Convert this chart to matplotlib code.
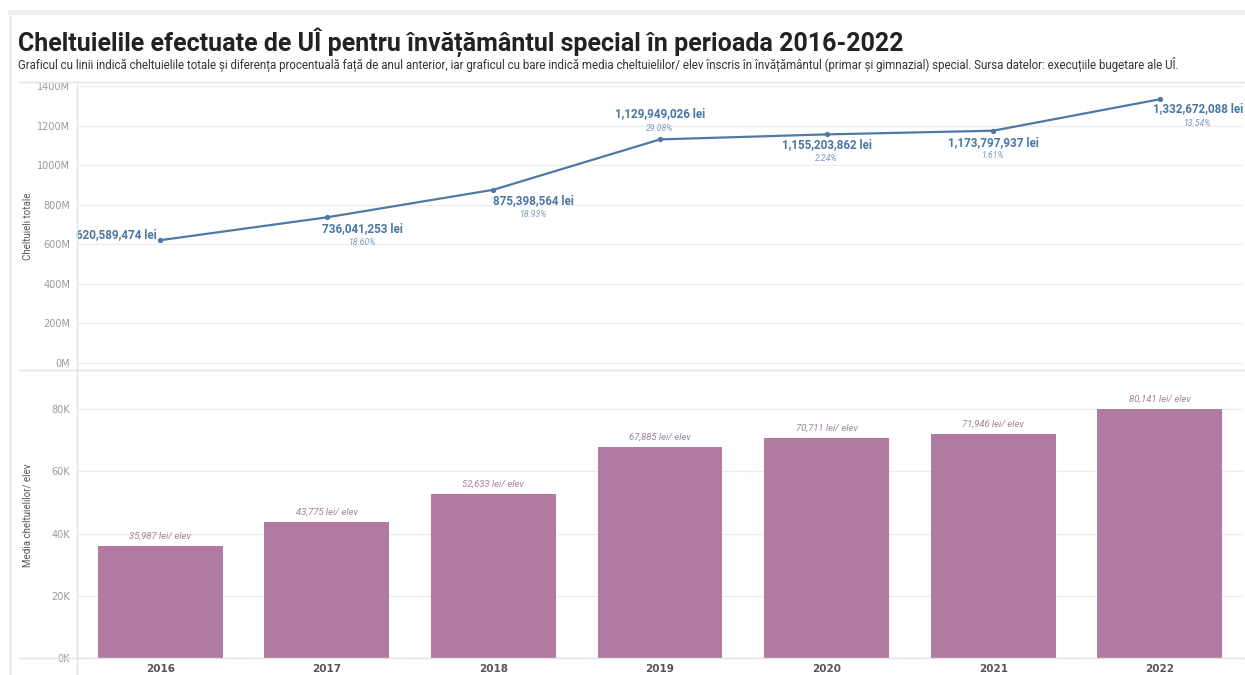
import matplotlib
matplotlib.use("Agg")
import matplotlib.pyplot as plt
from matplotlib.lines import Line2D
from matplotlib.ticker import FuncFormatter

# ---- data ----
years = ["2016", "2017", "2018", "2019", "2020", "2021", "2022"]
total_spend = [620589474, 736041253, 875398564, 1129949026, 1155203862, 1173797937, 1332672088]
pct_change = ["", "18.60%", "18.93%", "29.08%", "2.24%", "1.61%", "13.54%"]
avg_per_student = [35987, 43775, 52633, 67885, 70711, 71946, 80141]
top_ticks = [0, 200, 400, 600, 800, 1000, 1200, 1400]
bot_ticks = [0, 20, 40, 60, 80]

title = "Cheltuielile efectuate de UÎ pentru învățământul special în perioada 2016-2022"
subtitle = ("Graficul cu linii indică cheltuielile totale și diferența procentuală față de anul anterior, "
            "iar graficul cu bare indică media cheltuielilor/ elev înscris în învățământul (primar și gimnazial) "
            "special. Sursa datelor: execuțiile bugetare ale UÎ.")

FONT = ["Roboto", "DejaVu Sans"]
LINE_C = "#4e79a7"
BAR_C = "#b07aa1"
GRID_C = "#ececec"
FRAME_C = "#e2e2e2"

W, H = 1245, 675
fig = plt.figure(figsize=(W / 100, H / 100), dpi=100)
fig.patch.set_facecolor("white")
PT = 0.72  # points per pixel at dpi 100


def fx(px):
    return px / W


def fy(py):
    return 1 - py / H


# frame decorations
fig.add_artist(plt.Rectangle((fx(8), fy(15)), 1 - fx(8), 5 / H, transform=fig.transFigure,
                             color="#eeeeee", lw=0))
for (x0, y0, x1, y1) in [(10, 15, 10, 675), (18, 82, 1245, 82), (18, 370, 1245, 370),
                         (18, 658, 1245, 658), (77, 82, 77, 675)]:
    fig.add_artist(Line2D([fx(x0), fx(x1)], [fy(y0), fy(y1)], transform=fig.transFigure,
                          color=FRAME_C, lw=1))

fig.text(fx(18), fy(42), title, fontsize=18, fontweight="bold", family=FONT,
         color="#222222", va="center", ha="left")
fig.text(fx(18), fy(64), subtitle, fontsize=8.3, family=FONT, color="#333333",
         va="center", ha="left")

x = list(range(len(years)))
left = fx(77)
width = fx(1243) - left

# ---- top line chart ----
ax1 = fig.add_axes([left, fy(370), width, (370 - 82) / H])
vals_m = [v / 1e6 for v in total_spend]
ax1.plot(x, vals_m, color=LINE_C, lw=1.6, marker="o", ms=2.8, zorder=3)
ax1.set_xlim(-0.5, 6.5)
ax1.set_ylim(-35.4, 1420)
ax1.set_yticks(top_ticks)
ax1.yaxis.set_major_formatter(FuncFormatter(lambda v, p: f"{int(v)}M"))
ax1.set_xticks([])
ax1.grid(axis="y", color=GRID_C, lw=0.8)
ax1.set_axisbelow(True)
for s in ax1.spines.values():
    s.set_visible(False)
ax1.tick_params(axis="y", length=0, pad=5, labelsize=7, labelcolor="#999999")
ax1.set_ylabel("Cheltuieli totale", fontsize=7, color="#555555", family=FONT)
ax1.yaxis.set_label_coords(fx(33), fy(226), transform=fig.transFigure)

# label placements: (dx px of label centre, dy px of value, dy px of percentage); +dy = down
lab_cfg = [(-44, -6, 0), (36, 11, 25), (40, 11, 25), (0, -26, -11),
           (0, 10, 24), (0, 12, 25), (38, 9, 24)]
for i, v in enumerate(vals_m):
    dx, dyv, dyp = lab_cfg[i]
    ax1.annotate(f"{total_spend[i]:,} lei", (i, v), xytext=(dx * PT, -dyv * PT),
                 textcoords="offset points", ha="center", va="center", fontsize=8.4,
                 fontweight="bold", color="#4a75a4", family=FONT)
    if pct_change[i]:
        ax1.annotate(pct_change[i], (i, v), xytext=(dx * PT, -dyp * PT), textcoords="offset points",
                     ha="center", va="center", fontsize=6.2, style="italic", color="#7b9bc3",
                     family=FONT)

# ---- bottom bar chart ----
ax2 = fig.add_axes([left, fy(658), width, (658 - 372) / H])
vals_k = [v / 1e3 for v in avg_per_student]
ax2.bar(x, vals_k, width=0.75, color=BAR_C, zorder=3)
ax2.set_xlim(-0.5, 6.5)
ax2.set_ylim(0, 91.9)
ax2.set_yticks(bot_ticks)
ax2.yaxis.set_major_formatter(FuncFormatter(lambda v, p: f"{int(v)}K"))
ax2.set_xticks(x)
ax2.set_xticklabels(years)
ax2.grid(axis="y", color=GRID_C, lw=0.8)
ax2.set_axisbelow(True)
for s in ax2.spines.values():
    s.set_visible(False)
ax2.tick_params(axis="y", length=0, pad=5, labelsize=7, labelcolor="#999999")
ax2.tick_params(axis="x", length=0, pad=4, labelsize=7.5, labelcolor="#555555")
for t in ax2.get_xticklabels():
    t.set_fontweight("bold")
ax2.set_ylabel("Media cheltuielilor/ elev", fontsize=7, color="#555555", family=FONT)
ax2.yaxis.set_label_coords(fx(33), fy(515), transform=fig.transFigure)
for i, v in enumerate(vals_k):
    ax2.annotate(f"{avg_per_student[i]:,} lei/ elev", (i, v), xytext=(0, 7), textcoords="offset points",
                 ha="center", va="center", fontsize=6.8, style="italic", color="#a3809b", family=FONT)

fig.savefig("out.png", dpi=100, facecolor="white")
